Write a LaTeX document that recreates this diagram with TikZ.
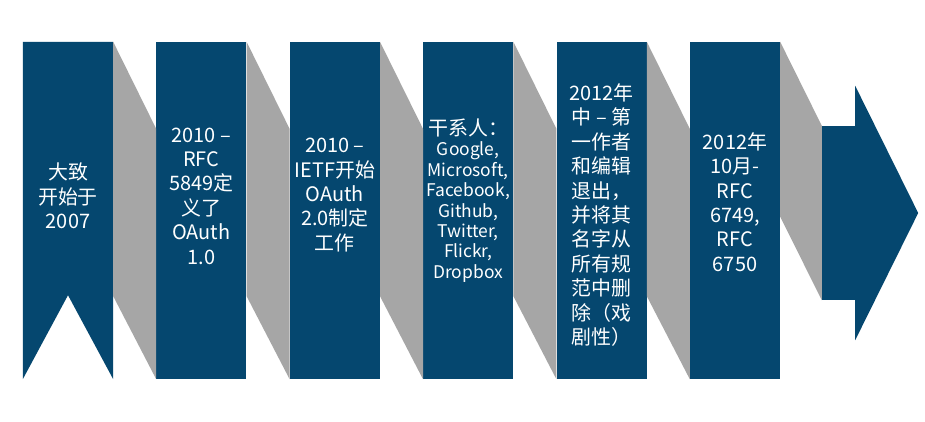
\documentclass[tikz,border=0pt]{standalone}
\usepackage{fontspec}
\setmainfont{Noto Sans CJK SC}
\usetikzlibrary{positioning,calc}
\definecolor{ribbonblue}{HTML}{05476F}
\definecolor{bandgray}{HTML}{A6A6A6}
\tikzset{
  panel/.style={
    rectangle, fill=ribbonblue, inner sep=0pt,
    minimum width=90bp, minimum height=337bp
  },
  paneltext/.style={align=center, text=white, inner sep=0pt, font=\fontsize{20}{24.5}\selectfont},
  listtext/.style={paneltext, font=\fontsize{17.5}{20.5}\selectfont},
  band/.style={fill=bandgray}
}
\newcommand{\bandlink}[2]{
  \fill[band] (#1.north east) -- ($(#2.north west)+(0,87)$) -- (#2.south west)
    -- ($(#1.south east)+(0,-83)$) -- cycle;
}

\begin{document}
\begin{tikzpicture}[x=1bp, y=-1bp, node distance=43bp]
\fill[white] (0,0) rectangle (925,421);
\useasboundingbox (0,0) rectangle (925,421);
% timeline panels
\node[panel, fill=none] (p1) at (68,210.5) {};
\node[panel, right=of p1] (p2) {};
\node[panel, right=of p2] (p3) {};
\node[panel, right=of p3] (p4) {};
\node[panel, right=of p4] (p5) {};
\node[panel, right=of p5] (p6) {};
\node[panel, minimum width=33bp, minimum height=174bp] (goal) at (838.5,213) {};
% ribbon start with notch
\fill[ribbonblue] (p1.north west) -- (p1.north east) -- (p1.south east)
  -- ($(p1.south)+(0,-84)$) -- (p1.south west) -- cycle;
% arrow head
\fill[ribbonblue] ($(goal.north east)+(0,-40)$) -- ($(goal.east)+(63,0)$)
  -- ($(goal.south east)+(0,40)$) -- cycle;
% gray bands
\bandlink{p1}{p2}
\bandlink{p2}{p3}
\bandlink{p3}{p4}
\bandlink{p4}{p5}
\bandlink{p5}{p6}
\fill[band] (p6.north east) -- (goal.north west) -- (goal.south west)
  -- ($(p6.north east)+(0,175)$) -- cycle;
% texts
\node[paneltext] (t1) at ([yshift=14.5bp]p1.center) {大致\\开始于\\2007};
\node[paneltext] (t2) at ([yshift=14.5bp]p2.center) {2010 –\\RFC\\5849定\\义了\\OAuth\\1.0};
\node[paneltext] (t3) at ([yshift=15.5bp]p3.center) {2010 –\\IETF开始\\OAuth\\2.0制定\\工作};
\node[listtext] (t4) at ([yshift=10bp]p4.center) {{\fontsize{20}{24.5}\selectfont 干系人：}\\Google,\\Microsoft,\\Facebook,\\Github,\\Twitter,\\Flickr,\\Dropbox};
\node[paneltext] (t5) at ([yshift=-4.5bp]p5.center) {2012年\\中 – 第\\一作者\\和编辑\\退出，\\并将其\\名字从\\所有规\\范中删\\除（戏\\剧性）};
\node[paneltext] (t6) at ([yshift=8.5bp]p6.center) {2012年\\10月-\\RFC\\6749,\\RFC\\6750};
\end{tikzpicture}
\end{document}
